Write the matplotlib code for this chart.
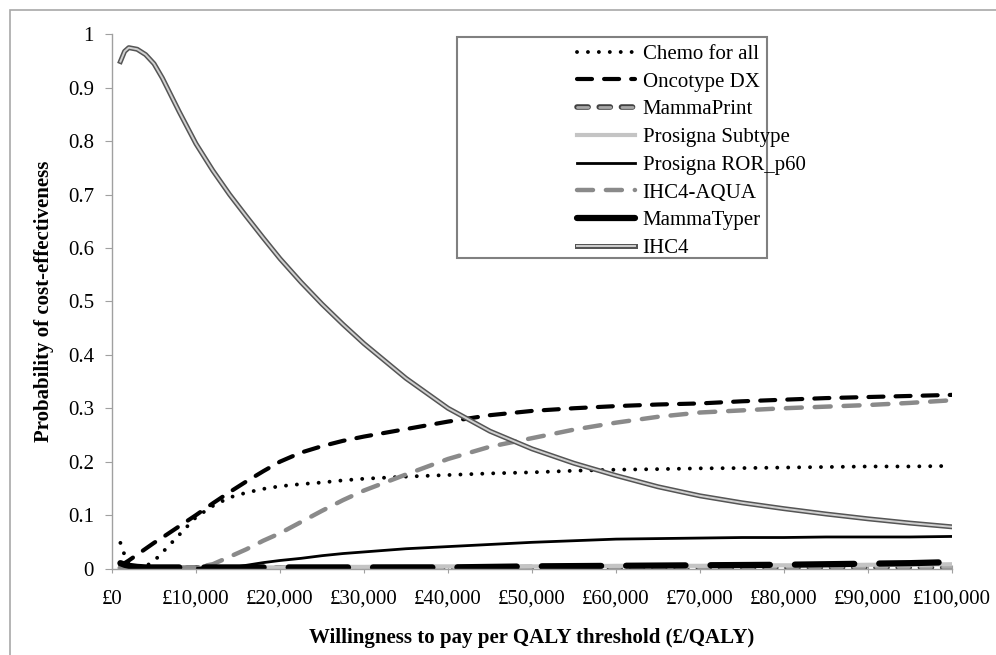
import matplotlib
matplotlib.use('Agg')
import matplotlib.pyplot as plt
import matplotlib.patheffects as pe
from matplotlib.patches import Rectangle
from matplotlib.ticker import FuncFormatter, MultipleLocator

plt.rcParams['font.family'] = ['Liberation Serif', 'DejaVu Serif']

wtp = [1000, 1500, 2000, 3000, 4000, 5000, 6000, 8000, 10000, 12000, 14000, 16000, 18000, 20000,
       22500, 25000, 27500, 30000, 35000, 40000, 45000, 50000, 55000, 60000, 65000, 70000,
       75000, 80000, 85000, 90000, 95000, 100000]

chemo = [0.048, 0.025, 0.008, 0.003, 0.004, 0.014, 0.030, 0.063, 0.096, 0.117, 0.133, 0.142, 0.149, 0.154,
         0.158, 0.161, 0.165, 0.168, 0.172, 0.175, 0.178, 0.180, 0.183, 0.185, 0.186, 0.1875,
         0.188, 0.189, 0.190, 0.191, 0.191, 0.192]
oncotype = [0.005, 0.010, 0.015, 0.026, 0.037, 0.048, 0.058, 0.079, 0.100, 0.122, 0.143, 0.163, 0.182, 0.200,
            0.217, 0.229, 0.239, 0.247, 0.261, 0.275, 0.287, 0.295, 0.300, 0.304, 0.307, 0.309,
            0.313, 0.316, 0.319, 0.321, 0.323, 0.325]
mammaprint = [0.001, 0.001, 0.001, 0.001, 0.001, 0.001, 0.001, 0.001, 0.001, 0.001, 0.001, 0.001, 0.001, 0.001,
              0.001, 0.001, 0.001, 0.001, 0.001, 0.001, 0.001, 0.002, 0.002, 0.002, 0.002, 0.002,
              0.002, 0.002, 0.002, 0.002, 0.002, 0.002]
prosigna_sub = [0.001, 0.001, 0.001, 0.001, 0.001, 0.001, 0.001, 0.001, 0.001, 0.002, 0.002, 0.002, 0.002, 0.002,
                0.003, 0.003, 0.003, 0.003, 0.004, 0.004, 0.004, 0.004, 0.004, 0.005, 0.005, 0.005,
                0.006, 0.006, 0.006, 0.007, 0.007, 0.008]
prosigna_ror = [0.001, 0.001, 0.001, 0.001, 0.001, 0.001, 0.001, 0.001, 0.001, 0.001, 0.001, 0.006, 0.011, 0.015,
                0.019, 0.024, 0.028, 0.031, 0.037, 0.041, 0.045, 0.049, 0.052, 0.055, 0.056, 0.057,
                0.058, 0.058, 0.059, 0.059, 0.059, 0.060]
ihc4_aqua = [0.002, 0.002, 0.002, 0.002, 0.002, 0.002, 0.002, 0.002, 0.002, 0.008, 0.022, 0.036, 0.052, 0.066,
             0.087, 0.108, 0.128, 0.146, 0.176, 0.205, 0.228, 0.244, 0.260, 0.273, 0.284, 0.292,
             0.296, 0.300, 0.303, 0.306, 0.310, 0.315]
mammatyper = [0.010, 0.007, 0.005, 0.003, 0.002, 0.002, 0.002, 0.002, 0.002, 0.002, 0.002, 0.002, 0.002, 0.002,
              0.002, 0.002, 0.002, 0.002, 0.002, 0.002, 0.003, 0.004, 0.0045, 0.005, 0.0055, 0.006,
              0.0065, 0.007, 0.008, 0.009, 0.010, 0.012]
ihc4 = [0.949, 0.968, 0.975, 0.972, 0.962, 0.945, 0.918, 0.855, 0.795, 0.745, 0.700, 0.659, 0.619, 0.580,
        0.536, 0.495, 0.457, 0.421, 0.356, 0.300, 0.257, 0.224, 0.197, 0.174, 0.153, 0.136,
        0.123, 0.112, 0.102, 0.093, 0.085, 0.078]

labels = ['Chemo for all', 'Oncotype DX', 'MammaPrint', 'Prosigna Subtype', 'Prosigna ROR_p60',
          'IHC4-AQUA', 'MammaTyper', 'IHC4']

fig = plt.figure(figsize=(9.96, 6.55), dpi=100)
ax = fig.add_axes([112 / 996, 86.5 / 655, 840 / 996, 534.2 / 655])

ax.plot(wtp, chemo, color='black', lw=2.8, linestyle=(0, (0.01, 2.8)),
        dash_capstyle='round', label=labels[0])
ax.plot(wtp, oncotype, color='black', lw=3, linestyle=(0, (3.6, 2.9)),
        dash_capstyle='round', label=labels[1])
ax.plot(wtp, mammaprint, color='#a8a8a8', lw=2, linestyle=(0, (4, 4)), dash_capstyle='round',
        path_effects=[pe.Stroke(linewidth=4, foreground='#404040'), pe.Normal()],
        label=labels[2])
ax.plot(wtp, prosigna_sub, color='#c4c4c4', lw=3, label=labels[3])
ax.plot(wtp, prosigna_ror, color='black', lw=2, label=labels[4])
ax.plot(wtp, ihc4_aqua, color='#8a8a8a', lw=3.2, linestyle=(0, (3.6, 2.9)),
        dash_capstyle='round', label=labels[5])
ax.plot(wtp, mammatyper, color='black', lw=4.5, linestyle=(0, (9.5, 4)),
        dash_capstyle='round', label=labels[6])
ax.plot(wtp, ihc4, color='#d0d0d0', lw=1.4,
        path_effects=[pe.Stroke(linewidth=3.6, foreground='#555555'), pe.Normal()],
        label=labels[7])

ax.set_xlim(0, 100000)
ax.set_ylim(0, 1)
ax.xaxis.set_major_locator(MultipleLocator(10000))
ax.yaxis.set_major_locator(MultipleLocator(0.1))
ax.xaxis.set_major_formatter(FuncFormatter(lambda v, p: '£{:,}'.format(int(v))))
ax.yaxis.set_major_formatter(FuncFormatter(lambda v, p: '{:g}'.format(round(v, 1))))

for s in ['top', 'right']:
    ax.spines[s].set_visible(False)
for s in ['left', 'bottom']:
    ax.spines[s].set_color('#a0a0a0')
    ax.spines[s].set_linewidth(1)

ax.tick_params(axis='x', direction='inout', length=6, color='#a0a0a0', labelsize=15, pad=12.5)
ax.tick_params(axis='y', direction='out', length=5, color='#a0a0a0', labelsize=15, pad=8)

ax.set_xlabel('Willingness to pay per QALY threshold (£/QALY)', fontsize=15, fontweight='bold', labelpad=14)
ax.set_ylabel('Probability of cost-effectiveness', fontsize=15, fontweight='bold', labelpad=10)

# legend box drawn separately, entries sit on its right side
ax.add_patch(Rectangle((0.411, 0.581), 0.369, 0.414, transform=ax.transAxes, fill=False,
                       edgecolor='#808080', lw=1.5, clip_on=False, zorder=5))
ax.legend(loc='upper left', bbox_to_anchor=(0.5536, 0.981), frameon=False, fontsize=15,
          borderpad=0, borderaxespad=0, handlelength=2.8, handletextpad=0.35, labelspacing=0.39)

# outer frame of the figure
fig.add_artist(Rectangle((10 / 996, -0.1), 1.2, 1.1 - 10 / 655, transform=fig.transFigure,
                         fill=False, edgecolor='#a8a8a8', lw=1.2))

fig.savefig('out.png', dpi=100)
